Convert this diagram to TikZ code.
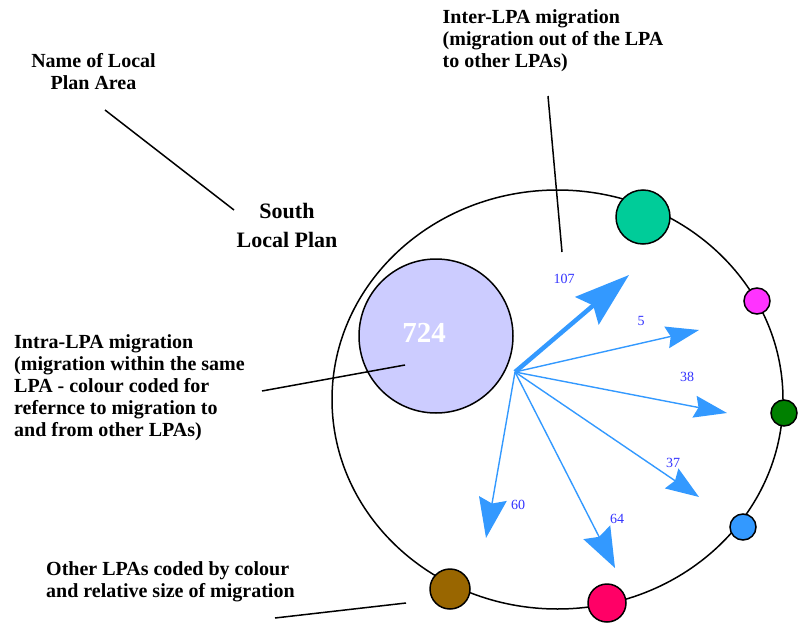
\documentclass[tikz,border=0pt]{standalone}
\usepackage{fontspec}
\setmainfont{Liberation Serif}
\usetikzlibrary{arrows.meta}
\definecolor{lav}{HTML}{CCCCFF}
\definecolor{teal2}{HTML}{00CC99}
\definecolor{mag}{HTML}{FF33FF}
\definecolor{grn}{HTML}{008000}
\definecolor{sky}{HTML}{3399FF}
\definecolor{crim}{HTML}{FF0066}
\definecolor{brn}{HTML}{996600}
\definecolor{numblue}{HTML}{3333FF}
\tikzset{
  lbl/.style={font=\bfseries\fontsize{20}{22}\selectfont, inner sep=0pt, align=left, anchor=north west},
  lpa/.style={circle, draw=black, line width=1.5pt, inner sep=0pt},
  lead/.style={draw=black, line width=1.5pt},
  flow/.style={draw=sky, line width=1.4pt},
  num/.style={font=\fontsize{14}{16}\selectfont, text=numblue, inner sep=0pt}
}
\begin{document}
\begin{tikzpicture}[x=1pt, y=-1pt]
\useasboundingbox (0,0) rectangle (801,629);
% main LPA boundary
\draw[line width=1.5pt] (557.5,399.5) ellipse [x radius=225.5, y radius=209.5];
% intra LPA circle
\node[lpa, fill=lav, minimum size=154pt] (intra) at (436,336) {};
\node[font=\bfseries\fontsize{29}{32}\selectfont, text=white, inner sep=0pt] (n724) at (424,333) {724};
% other LPAs
\node[lpa, fill=teal2, minimum size=54pt] (l1) at (643,217) {};
\node[lpa, fill=mag, minimum size=26pt] (l2) at (757,301) {};
\node[lpa, fill=grn, minimum size=26pt] (l3) at (784,413) {};
\node[lpa, fill=sky, minimum size=26pt] (l4) at (743,527) {};
\node[lpa, fill=crim, minimum size=38pt] (l5) at (607,603) {};
\node[lpa, fill=brn, minimum size=40pt] (l6) at (450,589) {};
% flows
\coordinate (o) at (515,372);
\coordinate (t1) at (629,275);
\coordinate (t2) at (699,330);
\coordinate (t3) at (727,413);
\coordinate (t4) at (699,497);
\coordinate (t5) at (615,568);
\coordinate (t6) at (486,538);
\draw[flow, line width=4.5pt, -{Stealth[length=55pt, width=36pt, inset=8pt]}] (o) -- (t1);
\draw[flow, -{Stealth[length=33pt, width=22pt, inset=4pt]}] (o) -- (t2);
\draw[flow, -{Stealth[length=33pt, width=22pt, inset=4pt]}] (o) -- (t3);
\draw[flow, -{Stealth[length=33pt, width=24pt, inset=4pt]}] (o) -- (t4);
\draw[flow, -{Stealth[length=40pt, width=30pt, inset=5pt]}] (o) -- (t5);
\draw[flow, -{Stealth[length=40pt, width=28pt, inset=5pt]}] (o) -- (t6);
\node[num] (v1) at (564,279) {107};
\node[num] (v2) at (641,321) {5};
\node[num] (v3) at (687,377) {38};
\node[num] (v4) at (673,463) {37};
\node[num] (v5) at (617,519) {64};
\node[num] (v6) at (518,505) {60};
% labels
\node[lbl, align=center, anchor=north] (name) at (93.5,53) {Name of Local\\Plan Area};
\node[font=\bfseries\fontsize{22}{29}\selectfont, inner sep=0pt, align=center, anchor=north] (south) at (287,203) {South\\Local Plan};
\node[lbl] (inter) at (442.5,9.5) {Inter-LPA migration\\(migration out of the LPA\\to other LPAs)};
\node[lbl] (intratxt) at (14,334.5) {Intra-LPA migration\\(migration within the same\\LPA - colour coded for\\refernce to migration to\\and from other LPAs)};
\node[lbl] (other) at (46,561) {Other LPAs coded by colour\\and relative size of migration};
% leader lines
\coordinate (a1) at (105,110); \coordinate (a2) at (234,210);
\coordinate (b1) at (548,96);  \coordinate (b2) at (562,252);
\coordinate (c1) at (262,391); \coordinate (c2) at (405,365);
\coordinate (d1) at (275,618); \coordinate (d2) at (406,603);
\draw[lead] (a1) -- (a2);
\draw[lead] (b1) -- (b2);
\draw[lead] (c1) -- (c2);
\draw[lead] (d1) -- (d2);
\end{tikzpicture}
\end{document}
